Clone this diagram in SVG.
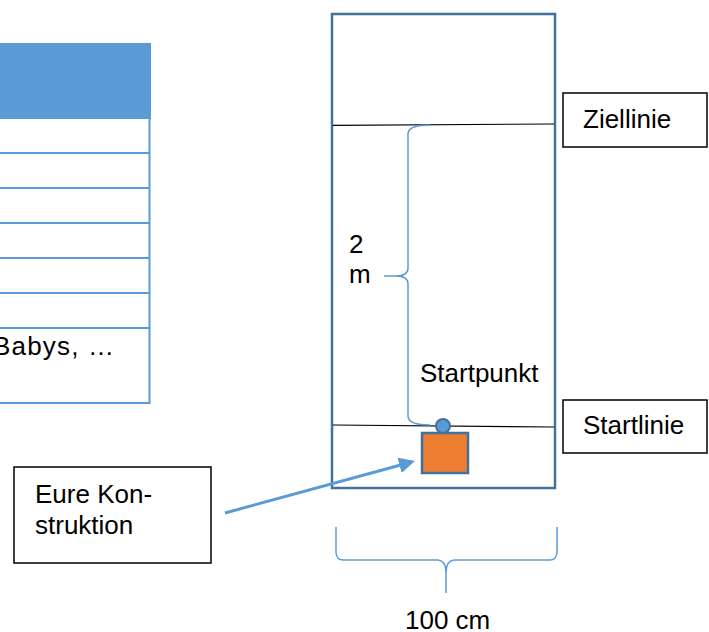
<svg xmlns="http://www.w3.org/2000/svg" width="709" height="632" viewBox="0 0 709 632">
<style>
text{font-family:"Liberation Sans",Arial,sans-serif;font-size:26px;fill:#000}
.tbl{stroke:#5B9BD5;stroke-width:2;fill:none}
.lbl{fill:#fff;stroke:#000;stroke-width:1.5}
.line{stroke:#000;stroke-width:1.2}
.brace{fill:none;stroke:#5B9BD5;stroke-width:1.5}
</style>
<defs>
<marker id="ah" markerUnits="userSpaceOnUse" markerWidth="18" markerHeight="18" refX="4" refY="8" orient="auto">
<path d="M0,0 L16,8 L0,16 z" fill="#5B9BD5"/>
</marker>
</defs>
<rect width="709" height="632" fill="#fff"/>
<g id="table">
<rect x="-2" y="43" width="153" height="76" fill="#5B9BD5"/>
<path class="tbl" d="M149.5,119 V404 M-2,153 H150.5 M-2,188 H150.5 M-2,223 H150.5 M-2,258 H150.5 M-2,293 H150.5 M-2,328 H150.5 M-2,403 H150.5"/>
<text x="-7" y="355" letter-spacing="1.2">Babys, …</text>
</g>
<g id="field">
<rect x="332" y="14" width="223" height="474" fill="#fff" stroke="#41719C" stroke-width="2.5"/>
<line class="line" x1="333" y1="125.3" x2="554" y2="124"/>
<line class="line" x1="333" y1="425" x2="554" y2="427"/>
</g>
<g id="ziellinie">
<rect class="lbl" x="563" y="93" width="144" height="54"/>
<text x="583" y="128">Ziellinie</text>
</g>
<g id="startlinie">
<rect class="lbl" x="563" y="400" width="144" height="53"/>
<text x="583" y="434">Startlinie</text>
</g>
<g id="startpunkt">
<text x="420" y="382">Startpunkt</text>
</g>
<g id="construction">
<rect x="422" y="433" width="46" height="40" fill="#ED7D31" stroke="#41719C" stroke-width="2.5"/>
<circle cx="443" cy="426" r="7" fill="#5B9BD5" stroke="#41719C" stroke-width="2"/>
</g>
<g id="label-construction">
<rect class="lbl" x="14" y="467" width="197" height="96"/>
<text x="35" y="503">Eure Kon-</text>
<text x="35" y="534">struktion</text>
</g>
<g id="dim-2m">
<path class="brace" d="M430,125 Q408,125 408,134 L408,268 Q408,276 396,276 L384,276 M396,276 Q408,276 408,284 L408,416 Q408,425 430,425"/>
<text x="349" y="253">2</text>
<text x="349" y="283">m</text>
</g>
<g id="dim-100cm">
<path class="brace" d="M336,527 L336,553 Q337,560 343,560 L438,560 Q446,561 446,572 L446,593 M446,572 Q446,561 454,560 L550,560 Q556,560 557,553 L557,527"/>
<text x="405" y="629">100 cm</text>
</g>
<g id="connectors">
<line x1="225" y1="513" x2="403.4" y2="464.2" stroke="#5B9BD5" stroke-width="3" marker-end="url(#ah)"/>
</g>
</svg>
